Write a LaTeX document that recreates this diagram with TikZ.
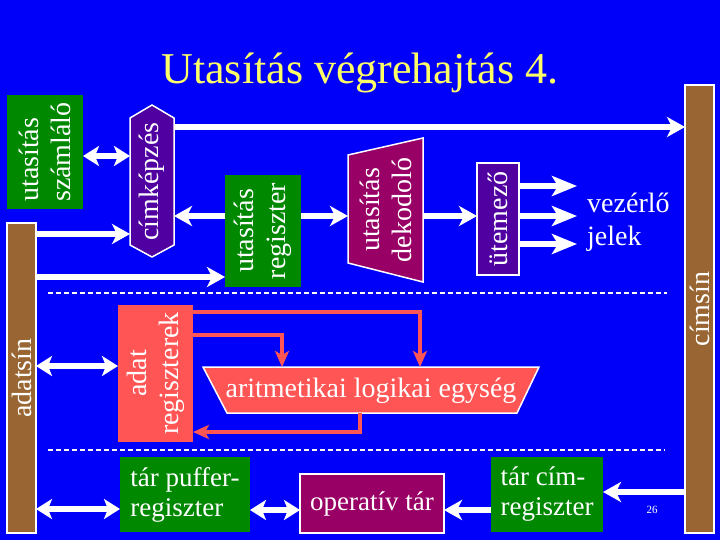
\documentclass[tikz,border=0pt]{standalone}
\usepackage{fontspec}
\setmainfont{Liberation Serif}
\usetikzlibrary{arrows.meta}
\definecolor{bg}{RGB}{0,0,250}
\definecolor{cgreen}{RGB}{0,136,0}
\definecolor{cpurple}{RGB}{80,0,160}
\definecolor{cmag}{RGB}{153,0,102}
\definecolor{cbrown}{RGB}{153,102,51}
\definecolor{cred}{RGB}{255,85,85}
\definecolor{ctitle}{RGB}{255,255,102}
\begin{document}
\begin{tikzpicture}[x=1pt,y=-1pt,
 blk/.style={inner sep=0pt,outer sep=0pt,draw=none},
 wb/.style={draw=white,line width=1.5pt},
 txt/.style={text=white,font=\fontsize{28}{32}\selectfont,align=center,inner sep=0pt},
 rtxt/.style={txt,rotate=90},
 arr/.style={draw=white,line width=6pt,-{Stealth[length=18pt,width=20pt,inset=5pt]}},
 bigarr/.style={draw=white,line width=6pt,-{Stealth[length=25pt,width=20pt,inset=6pt]}},
 dbl/.style={draw=white,line width=6pt,{Stealth[length=16pt,width=20pt,inset=4pt]}-{Stealth[length=16pt,width=20pt,inset=4pt]}},
 redarr/.style={draw=cred,line width=4pt,-{Stealth[length=16pt,width=14pt,inset=4pt]}},
 sep/.style={draw=white,line width=1.2pt,dash pattern=on 5pt off 3pt}
]
\fill[bg] (0,0) rectangle (720,540);
\useasboundingbox (0,0) rectangle (720,540);

\node[text=ctitle,font=\fontsize{44}{48}\selectfont,anchor=base,inner sep=0pt] (title) at (360,84) {Utasítás végrehajtás 4.};

% utasitas szamlalo
\node[blk,fill=cgreen,minimum width=76pt,minimum height=114pt] (usz) at (45,152) {};
\node[rtxt,align=left] (usz-t) at (usz) {utasítás\\számláló};

% cimkepzes
\filldraw[fill=cpurple,wb] (152,105) -- (174,118) -- (174,245) -- (152,257) -- (130,245) -- (130,118) -- cycle;
\node[blk,minimum width=44pt,minimum height=127pt] (ck) at (152,181.5) {};
\node[rtxt] (ck-t) at (ck) {címképzés};

% utasitas regiszter
\node[blk,fill=cgreen,minimum width=76pt,minimum height=112pt] (ureg) at (263,231) {};
\node[rtxt] (ureg-t) at (ureg) {utasítás\\regiszter};

% dekodolo
\filldraw[fill=cmag,wb] (348,155) -- (423,138) -- (423,282) -- (348,263) -- cycle;
\node[blk,minimum width=75pt,minimum height=108pt] (dek) at (385.5,209) {};
\node[rtxt] (dek-t) at (385.5,210) {utasítás\\dekodoló};

% utemezo
\node[blk,wb,fill=cpurple,minimum width=42pt,minimum height=112pt] (ute) at (498,219) {};
\node[rtxt] (ute-t) at (ute) {ütemező};

\node[txt,align=left,anchor=west,font=\fontsize{28}{33}\selectfont] (vj) at (587,222) {vezérlő\\jelek};
\coordinate (v1) at (577,186);
\coordinate (v2) at (577,216);
\coordinate (v3) at (577,244);

% buses
\node[blk,wb,fill=cbrown,minimum width=29pt,minimum height=448pt] (cs) at (699.5,309) {};
\node[rtxt] (cs-t) at (cs) {címsín};
\node[blk,wb,fill=cbrown,minimum width=29pt,minimum height=310pt] (as) at (21.5,378) {};
\node[rtxt] (as-t) at (as) {adatsín};

% adat regiszterek
\node[blk,fill=cred,minimum width=75pt,minimum height=137pt] (ar) at (155.5,373.5) {};
\node[rtxt] (ar-t) at (ar) {adat\\regiszterek};

% ALU
\filldraw[fill=cred,wb] (203,367) -- (539,367) -- (517,413) -- (227,413) -- cycle;
\node[blk,minimum width=336pt,minimum height=46pt] (alu) at (371,390) {};
\node[txt] (alu-t) at (371,391) {aritmetikai logikai egység};

% bottom row
\node[blk,fill=cgreen,minimum width=130pt,minimum height=75pt] (tp) at (185,494.5) {};
\node[txt,align=left,font=\fontsize{27}{30}\selectfont] (tp-t) at (tp) {tár puffer-\\regiszter};
\node[blk,wb,fill=cmag,minimum width=144pt,minimum height=59pt] (ot) at (372,503.5) {};
\node[txt,font=\fontsize{27}{30}\selectfont] (ot-t) at (ot) {operatív tár};
\node[blk,fill=cgreen,minimum width=112pt,minimum height=75pt] (tc) at (547,494.5) {};
\node[txt,align=left,font=\fontsize{27}{30}\selectfont] (tc-t) at (tc) {tár cím-\\regiszter};

\node[text=white,font=\fontsize{11}{13}\selectfont,inner sep=0pt] (pg) at (652,510) {26};

% separators
\draw[sep] (48,293) -- (667,293);
\draw[sep] (48,450) -- (665,450);

% connectors
\draw[dbl] (usz.east |- 0,156) -- (ck.west |- 0,156);
\draw[arr] (ck.east |- 0,127) -- (cs.west |- 0,127);
\draw[arr] (ureg.west |- 0,216) -- (ck.east |- 0,216);
\draw[arr] (as.east |- 0,234) -- (ck.west |- 0,234);
\draw[arr] (as.east |- 0,277) -- (ureg.west |- 0,277);
\draw[arr] (ureg.east |- 0,216) -- (dek.west |- 0,216);
\draw[arr] (dek.east |- 0,216) -- (ute.west |- 0,216);
\draw[bigarr] (ute.east |- v1) -- (v1);
\draw[bigarr] (ute.east |- v2) -- (v2);
\draw[bigarr] (ute.east |- v3) -- (v3);
\draw[dbl] (as.east |- 0,366) -- (ar.west |- 0,366);
\draw[redarr] (ar.east |- 0,312) -| (alu.north -| 420,0);
\draw[redarr] (ar.east |- 0,335) -| (alu.north -| 282,0);
\draw[redarr] (alu.south -| 360,0) |- (ar.east |- 0,432);
\draw[dbl] (as.east |- 0,509) -- (tp.west |- 0,509);
\draw[dbl] (tp.east |- 0,510) -- (ot.west |- 0,510);
\draw[arr] (tc.west |- 0,510) -- (ot.east |- 0,510);
\draw[arr] (cs.west |- 0,492) -- (tc.east |- 0,492);
\end{tikzpicture}
\end{document}
